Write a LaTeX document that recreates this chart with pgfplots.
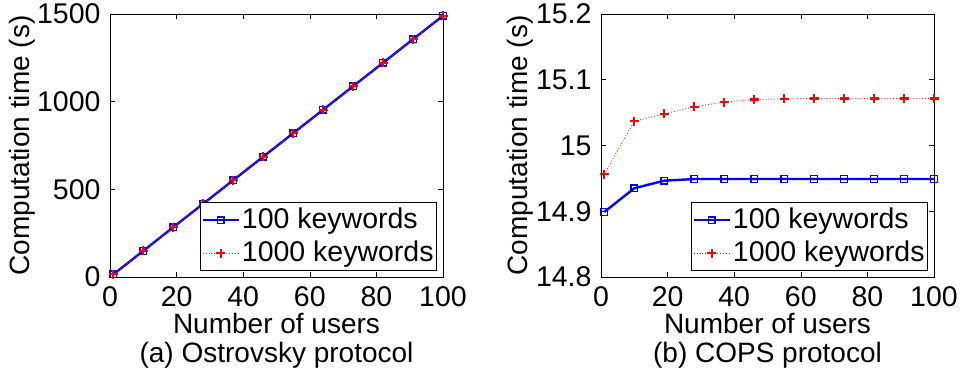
\documentclass[border=0pt]{standalone}
\usepackage{fontspec}
\setmainfont{Liberation Sans}
\usepackage{pgfplots}
\pgfplotsset{compat=1.18}
\begin{document}
\fontsize{28}{33}\selectfont
\begin{tikzpicture}
\useasboundingbox (0,0) rectangle (960pt,-376pt);
\pgfplotsset{
 mystyle/.style={
  scale only axis, width=333pt, height=263pt,
  xmin=0, xmax=100, xtick={0,20,...,100},
  tick align=inside, major tick length=5pt,
  tick style={black, line width=0.6pt},
  axis line style={line width=0.8pt},
  tick label style={font=\fontsize{28.5}{33}\selectfont},
  /pgf/number format/assume math mode=true,
  /pgf/number format/1000 sep={},
  scaled ticks=false,
  xlabel={Number of users},
  ylabel={Computation time (s)},
  xlabel style={font=\fontsize{28}{33}\selectfont, at={(rel axis cs:0.5,0)}, anchor=base, yshift=-56pt},
  legend cell align=left,
  legend style={at={(0.982,0.023)}, anchor=south east, draw=black, line width=0.8pt, fill=white,
    font=\fontsize{28.5}{33}\selectfont, inner xsep=1pt, inner ysep=3pt, row sep=4pt,
    nodes={inner sep=2pt}},
  legend image code/.code={\draw[mark repeat=2,mark phase=2] plot coordinates {(0pt,0pt) (18pt,0pt) (36pt,0pt)};},
  s1/.style={blue, line width=2.4pt, mark=square, mark size=3.3pt, mark options={solid, line width=1.3pt}},
  s2/.style={red!90!white, line width=0.9pt, dotted, mark=+, mark size=4.5pt, mark options={solid, line width=2.2pt, red}},
 }
}
\begin{axis}[mystyle, at={(110pt,-277pt)}, anchor=south west,
  ymin=0, ymax=1500, ytick={0,500,1000,1500},
  ylabel style={font=\fontsize{28}{33}\selectfont, at={(rel axis cs:0,0.5)}, anchor=center, yshift=88pt},
  after end axis/.code={\node[anchor=base, font=\fontsize{28}{33}\selectfont] at ([yshift=-85pt]rel axis cs:0.5,0) {(a) Ostrovsky protocol};}]
\addplot[s1] coordinates {(1,15) (10,149) (19,284) (28,418) (37,552) (46,686) (55,820) (64,954) (73,1088) (82,1222) (91,1356) (100,1490)};
\addplot[s2] coordinates {(1,15) (10,149) (19,284) (28,418) (37,552) (46,686) (55,820) (64,954) (73,1088) (82,1222) (91,1356) (100,1490)};
\legend{100 keywords, 1000 keywords}
\end{axis}
\begin{axis}[mystyle, at={(601pt,-277pt)}, anchor=south west,
  ymin=14.8, ymax=15.2, ytick={14.8,14.9,15,15.1,15.2},
  ylabel style={font=\fontsize{28}{33}\selectfont, at={(rel axis cs:0,0.5)}, anchor=center, yshift=81pt},
  after end axis/.code={\node[anchor=base, font=\fontsize{28}{33}\selectfont] at ([yshift=-85pt]rel axis cs:0.5,0) {(b) COPS protocol};}]
\addplot[s1] coordinates {(1,14.899) (10,14.935) (19,14.9465) (28,14.949) (37,14.949) (46,14.949) (55,14.949) (64,14.949) (73,14.949) (82,14.949) (91,14.949) (100,14.949)};
\addplot[s2] coordinates {(1,14.9565) (10,15.037) (19,15.048) (28,15.059) (37,15.066) (46,15.070) (55,15.071) (64,15.0715) (73,15.0715) (82,15.0715) (91,15.0715) (100,15.0715)};
\legend{100 keywords, 1000 keywords}
\end{axis}
\end{tikzpicture}
\end{document}
